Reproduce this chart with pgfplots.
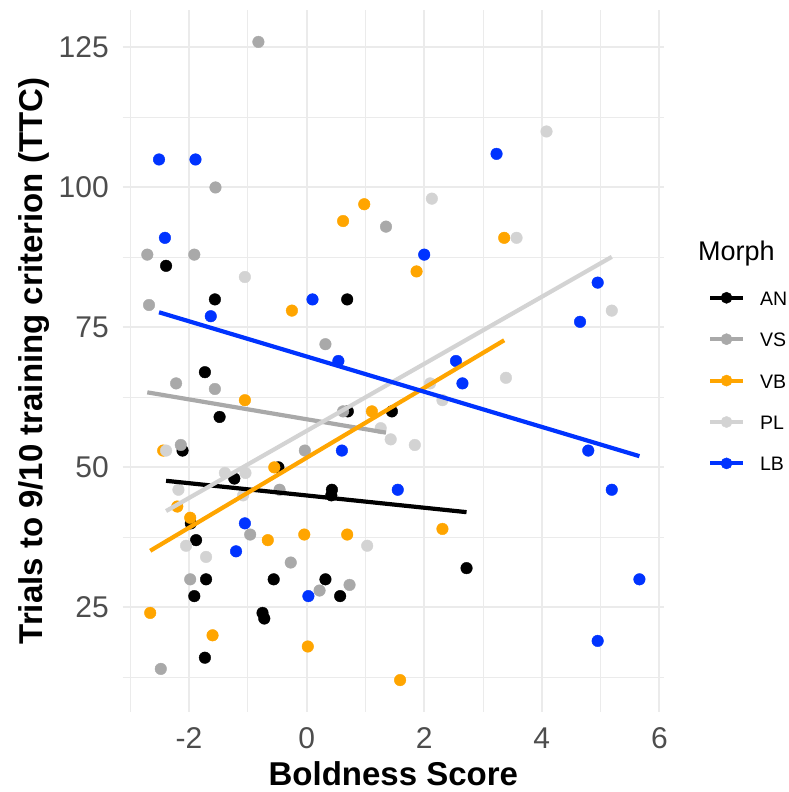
\documentclass[border=0pt]{standalone}
\usepackage{pgfplots}
\pgfplotsset{compat=1.18}
\usepackage{fontspec}
\setmainfont{Liberation Sans}
\definecolor{cAN}{HTML}{000000}
\definecolor{cVS}{HTML}{A9A9A9}
\definecolor{cVB}{HTML}{FFA500}
\definecolor{cPL}{HTML}{D3D3D3}
\definecolor{cLB}{HTML}{0033FF}
\definecolor{gridc}{HTML}{EBEBEB}
\definecolor{tickc}{HTML}{4D4D4D}
\pgfplotsset{
  lkey/.style={legend image code/.code={%
    \draw[line width=4pt,color=#1] (0pt,0pt) -- (33pt,0pt);
    \fill[color=#1] (16.5pt,0pt) circle (5.6pt);}},
  pts/.style={only marks, mark=*, mark size=5.8pt, color=#1, mark options={draw=none, fill=#1}, lkey=#1},
  fit/.style={no marks, line width=4.2pt, color=#1, forget plot}
}
\begin{document}
\begin{tikzpicture}
\useasboundingbox (0,0) rectangle (789pt,792pt);
\begin{axis}[
  at={(122.7pt,80pt)}, anchor=south west,
  scale only axis, width=541.3pt, height=702pt,
  xmin=-3.128, xmax=6.078, ymin=6.3, ymax=131.7,
  clip mode=individual,
  xtick={-2,0,2,4,6}, xticklabels={-2,0,2,4,6},
  ytick={25,50,75,100,125}, yticklabels={25,50,75,100,125},
  minor xtick={-3,-1,1,3,5},
  minor ytick={12.5,37.5,62.5,87.5,112.5},
  grid=both,
  major grid style={color=gridc, line width=2pt},
  minor grid style={color=gridc, line width=1pt},
  axis line style={draw=none},
  major tick length=0pt, minor tick length=0pt,
  tick style={draw=none},
  xticklabel style={font=\fontsize{30}{36}\selectfont, text=tickc, anchor=base, inner sep=0pt, yshift=-36pt},
  yticklabel style={font=\fontsize{30}{36}\selectfont, text=tickc, anchor=east, inner sep=0pt, xshift=-13.7pt},
  xlabel={\bfseries Boldness Score},
  ylabel={\bfseries Trials to 9/10 training criterion (TTC)},
  xlabel style={font=\fontsize{33}{40}\selectfont, at={(axis description cs:0.5,-0.104)}, anchor=base, inner sep=0pt},
  ylabel style={font=\fontsize{33}{40}\selectfont, at={(axis description cs:-0.149,0.5)}, anchor=base, inner sep=0pt},
  legend cell align=left,
  legend style={at={(axis description cs:1.081,0.601)}, anchor=north west, draw=none, fill=none,
    font=\fontsize{19.5}{24}\selectfont, inner sep=0pt, row sep=26.4pt,
    nodes={inner sep=0pt, text height=15pt, text depth=0pt},
    /tikz/every odd column/.append style={column sep=15pt}},
]
\addplot[pts=cAN] table {
x y
-2.39 86
-1.56 80
0.69 80
-1.73 67
-1.48 59
0.70 60
1.45 60
-2.11 53
-1.23 48
-0.48 50
0.43 46
0.42 45
-1.97 40
-1.88 37
-1.71 30
-0.56 30
0.32 30
0.57 27
-1.91 27
-0.75 24
-0.72 23
-1.73 16
2.72 32
};
\addlegendentry{AN}
\addplot[pts=cVS] table {
x y
-0.82 126
-1.55 100
1.35 93
-2.71 88
-1.91 88
-2.68 79
0.32 72
-2.22 65
-1.56 64
0.62 60
-0.03 53
-2.14 54
-0.46 46
-0.96 38
-0.27 33
-1.98 30
0.22 28
0.73 29
-2.48 14
};
\addlegendentry{VS}
\addplot[pts=cVB] table {
x y
0.98 97
0.62 94
1.87 85
3.36 91
-0.25 78
-1.05 62
1.11 60
-2.44 53
-0.55 50
-2.20 43
-1.98 41
-0.66 37
-0.04 38
0.69 38
-2.66 24
-1.60 20
0.02 18
1.59 12
2.31 39
};
\addlegendentry{VB}
\addplot[pts=cPL] table {
x y
4.08 110
2.13 98
3.57 91
-1.05 84
1.26 57
1.43 55
-2.39 53
-1.39 49
-1.04 49
-2.18 46
-1.08 45
-2.05 36
-1.71 34
1.03 36
5.19 78
3.39 66
2.10 65
2.31 62
1.84 54
};
\addlegendentry{PL}
\addplot[pts=cLB] table {
x y
-2.51 105
-1.89 105
3.23 106
-2.41 91
2.00 88
-1.63 77
0.10 80
0.54 69
0.60 53
1.55 46
-1.05 40
-1.20 35
0.03 27
4.95 83
4.65 76
2.54 69
2.65 65
4.79 53
5.19 46
5.66 30
4.95 19
};
\addlegendentry{LB}
\addplot[fit=cAN] coordinates {(-2.39,47.6) (2.72,42.0)};
\addplot[fit=cVS] coordinates {(-2.71,63.4) (1.35,56.2)};
\addplot[fit=cVB] coordinates {(-2.66,35.1) (3.36,72.7)};
\addplot[fit=cPL] coordinates {(-2.39,42.2) (5.19,87.6)};
\addplot[fit=cLB] coordinates {(-2.51,77.7) (5.66,52.0)};
\node[anchor=base west, inner sep=0pt, font=\fontsize{27}{32}\selectfont] at (axis description cs:1.0628,0.6429) {Morph};
\end{axis}
\end{tikzpicture}
\end{document}
